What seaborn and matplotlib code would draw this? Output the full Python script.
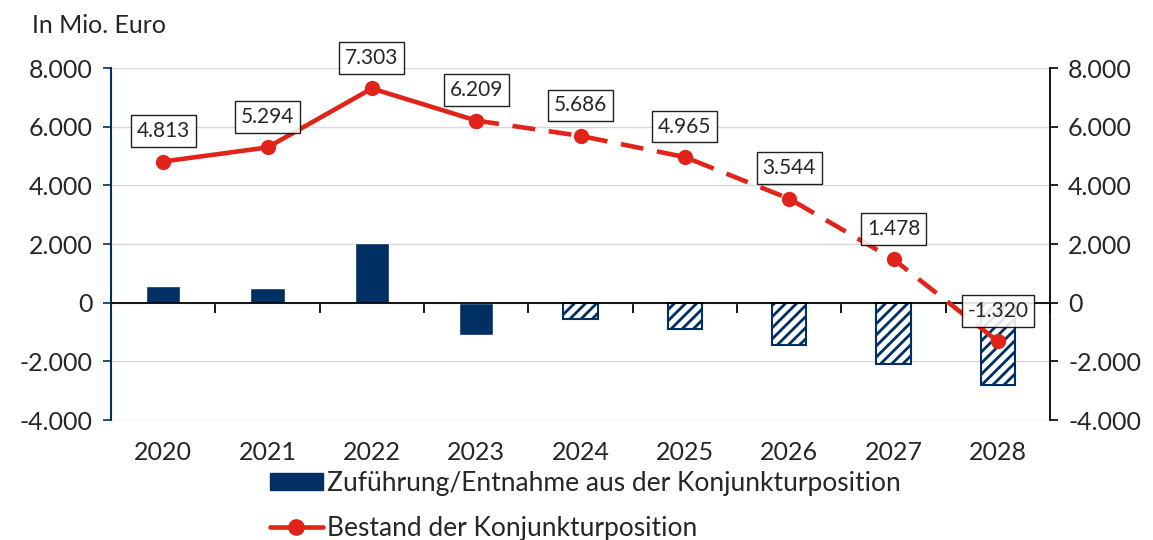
import numpy as np
import pandas as pd
import seaborn as sns
import matplotlib.pyplot as plt
from matplotlib.patches import Patch
from matplotlib.lines import Line2D

# data
years = ['2020', '2021', '2022', '2023', '2024', '2025', '2026', '2027', '2028']
flows = [580, 500, 2030, -1110, -550, -910, -1450, -2080, -2820]
stock = [4813, 5294, 7303, 6209, 5686, 4965, 3544, 1478, -1320]
last_actual = 3  # index of 2023, bars/line after this are forecast

NAVY = '#002f63'
RED = '#e2231a'

sns.set_theme(style='white')
plt.rcParams['font.family'] = ['Lato', 'DejaVu Sans']
plt.rcParams['hatch.color'] = NAVY
plt.rcParams['hatch.linewidth'] = 2.0


def fmt(v):
    return '{:,.0f}'.format(v).replace(',', '.')


df = pd.DataFrame({'year': years, 'flow': flows, 'stock': stock})
df['pos'] = np.arange(len(df))

fig = plt.figure(figsize=(11.53, 5.40), dpi=100)
ax = fig.add_axes([0.0963, 0.2222, 0.8144, 0.6518])

sns.barplot(data=df, x='year', y='flow', order=years, color=NAVY,
            saturation=1, width=0.33, ax=ax, zorder=2)
for i, bar in enumerate(ax.patches):
    if i > last_actual:
        bar.set_facecolor('white')
        bar.set_hatch('///')
        bar.set_edgecolor(NAVY)
        bar.set_linewidth(1.5)

ax.axhline(0, color='black', lw=1.3, zorder=3)

# stock line: solid for actuals, dashed for the forecast
sns.lineplot(data=df.iloc[:last_actual + 1], x='pos', y='stock', color=RED,
             lw=3.3, marker='o', markersize=11, markeredgewidth=0, ax=ax,
             zorder=4)
sns.lineplot(data=df.iloc[last_actual:], x='pos', y='stock', color=RED,
             lw=3.3, marker='o', markersize=11, markeredgewidth=0, ax=ax,
             dashes=(5, 3), zorder=4)

for p, v in zip(df['pos'], df['stock']):
    ax.annotate(fmt(v), (p, v), xytext=(0, 22), textcoords='offset points',
                ha='center', va='center', fontsize=15, zorder=6,
                bbox=dict(boxstyle='square,pad=0.28', fc='white', ec='black',
                          lw=1, alpha=0.88))

ax.set_xlim(-0.5, len(years) - 0.5)
ax.set_ylim(-4000, 8000)
yticks = np.arange(-4000, 8001, 2000)
ax.set_yticks(yticks)
ax.set_yticklabels([fmt(t) for t in yticks])
ax.yaxis.grid(True, color='#d9d9d9', lw=1)
ax.set_axisbelow(True)
ax.set_xlabel('')
ax.set_ylabel('')
ax.tick_params(axis='x', length=0, pad=15, labelsize=18)
ax.tick_params(axis='y', length=6, width=1.2, color=NAVY, direction='out',
               left=True, pad=7, labelsize=18)

for side in ['top', 'bottom', 'right']:
    ax.spines[side].set_visible(False)
ax.spines['left'].set_color(NAVY)
ax.spines['left'].set_linewidth(1.5)

# tick marks between categories on the zero line
zero = ax.secondary_xaxis(1 / 3)
zero.set_xticks(np.arange(-0.5, len(years), 1.0))
zero.set_xticklabels([])
zero.spines['bottom'].set_visible(False)
zero.tick_params(axis='x', direction='out', length=7, width=1.3,
                 color='black')

# right axis mirrors the left one
ax2 = ax.twinx()
ax2.set_ylim(ax.get_ylim())
ax2.set_yticks(yticks)
ax2.set_yticklabels([fmt(t) for t in yticks])
ax2.tick_params(axis='y', length=6, width=1.2, color='black',
                direction='out', pad=7, labelsize=18)
for side in ['top', 'bottom', 'left']:
    ax2.spines[side].set_visible(False)
ax2.spines['right'].set_color('black')
ax2.spines['right'].set_linewidth(1.3)

fig.text(0.028, 0.953, 'In Mio. Euro', fontsize=18, ha='left', va='center')

handles = [
    Patch(facecolor=NAVY, edgecolor=NAVY),
    Line2D([], [], color=RED, lw=3.3, marker='o', markersize=11),
]
labels = ['Zuführung/Entnahme aus der Konjunkturposition',
          'Bestand der Konjunkturposition']
fig.legend(handles, labels, loc='upper left', bbox_to_anchor=(0.234, 0.128),
           frameon=False, fontsize=19, handlelength=2.0, handleheight=0.6,
           handletextpad=0.15, labelspacing=0.75, borderpad=0,
           borderaxespad=0)

fig.savefig('out.png', dpi=100)
